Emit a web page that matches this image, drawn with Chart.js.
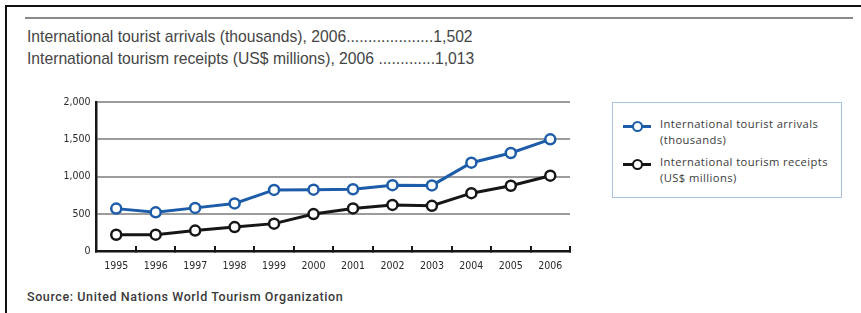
<!DOCTYPE html>
<html>
<head>
<meta charset="utf-8">
<script src="https://cdn.jsdelivr.net/npm/chart.js@4"></script>
<style>
  html, body { margin: 0; padding: 0; background: #fff; }
  body { width: 861px; height: 313px; position: relative; overflow: hidden; font-family: "Liberation Sans", Arial, sans-serif; }
  .frame-top { position: absolute; left: 5px; top: 5px; width: 856px; height: 2px; background: #111; }
  .frame-left { position: absolute; left: 5px; top: 5px; width: 2px; height: 308px; background: #111; }
  .rule { position: absolute; left: 25px; top: 17px; width: 828px; height: 2px; background: #8a8a8a; }
  .head { position: absolute; left: 27px; font-size: 15.7px; color: #454545; white-space: pre; }
  #h1 { top: 28px; }
  #h2 { top: 50px; }
  .source { position: absolute; left: 27px; top: 289px; font-family: Roboto, sans-serif; font-weight: 500; font-size: 12.5px; letter-spacing: 0.6px; color: #3a3a3a; }
  #wrap { position: absolute; left: 40px; top: 90px; width: 540px; height: 190px; }
  #legend { position: absolute; left: 612px; top: 102px; width: 230px; height: 96px; border: 1.5px solid #a9c3df; box-sizing: border-box; }
  .li { position: absolute; left: 10px; display: flex; align-items: flex-start; }
  .sym { position: relative; width: 28px; height: 12px; margin-top: 2px; }
  .sym .ln { position: absolute; left: 0; top: 4.5px; width: 28px; height: 3px; }
  .sym .pt { position: absolute; left: 8.5px; top: 0.5px; width: 7px; height: 7px; border-radius: 50%; background: #fff; border-width: 2.2px; border-style: solid; }
  .lt { margin-left: 9px; font-family: "Open Sans", sans-serif; font-size: 11.2px; letter-spacing: 0.42px; line-height: 16px; color: #3a3a3a; margin-top: -2px; }
</style>
</head>
<body>
<div class="frame-top"></div>
<div class="frame-left"></div>
<div class="rule"></div>
<div class="head" id="h1"></div>
<div class="head" id="h2"></div>
<div id="wrap"><canvas id="c"></canvas></div>
<div id="legend"></div>
<div class="source" id="src"></div>
<script>
const years = ['1995','1996','1997','1998','1999','2000','2001','2002','2003','2004','2005','2006'];
const arrivals = [570, 520, 580, 640, 822, 825, 830, 885, 882, 1188, 1318, 1502];
const receipts = [218, 220, 275, 322, 368, 497, 573, 620, 608, 778, 878, 1013];
const seriesLabels = [['International tourist arrivals', '(thousands)'], ['International tourism receipts', '(US$ millions)']];
const seriesColors = ['#1d5ca8', '#161616'];
const yTicks = [0, 500, 1000, 1500, 2000];
const headLines = [
  'International tourist arrivals (thousands), 2006....................1,502',
  'International tourism receipts (US$ millions), 2006 .............1,013'
];
const sourceText = 'Source: United Nations World Tourism Organization';

document.getElementById('h1').textContent = headLines[0];
document.getElementById('h2').textContent = headLines[1];
document.getElementById('src').textContent = sourceText;

const condensed = "'Liberation Sans Narrow', 'DejaVu Sans Condensed', sans-serif";

const datasets = [arrivals, receipts].map((d, i) => ({
  label: seriesLabels[i].join(' '),
  data: d,
  borderColor: seriesColors[i],
  backgroundColor: '#fff',
  borderWidth: 3,
  pointRadius: 5,
  pointHoverRadius: 5,
  pointBorderWidth: 2.5,
  pointBackgroundColor: '#fff',
  pointBorderColor: seriesColors[i],
  tension: 0,
  fill: false
}));

// HTML legend built from the series
const legend = document.getElementById('legend');
seriesLabels.forEach((lab, i) => {
  const li = document.createElement('div');
  li.className = 'li';
  li.style.top = (15 + i * 38) + 'px';
  const sym = document.createElement('div');
  sym.className = 'sym';
  const ln = document.createElement('div'); ln.className = 'ln'; ln.style.background = seriesColors[i];
  const pt = document.createElement('div'); pt.className = 'pt'; pt.style.borderColor = seriesColors[i];
  sym.appendChild(ln); sym.appendChild(pt);
  const t = document.createElement('div');
  t.className = 'lt';
  t.innerHTML = lab.map(s => s.replace(/&/g,'&amp;').replace(/</g,'&lt;')).join('<br>');
  li.appendChild(sym); li.appendChild(t);
  legend.appendChild(li);
});

new Chart(document.getElementById('c'), {
  type: 'line',
  data: { labels: years, datasets },
  options: {
    responsive: true,
    maintainAspectRatio: false,
    animation: false,
    events: [],
    layout: { padding: { top: 11, right: 10, left: 0, bottom: 0 } },
    plugins: { legend: { display: false }, tooltip: { enabled: false } },
    scales: {
      x: {
        type: 'category',
        offset: true,
        grid: { offset: true, drawOnChartArea: false, drawTicks: true, tickLength: -5, color: '#161616', lineWidth: 2 },
        border: { display: true, color: '#161616', width: 2.5 },
        ticks: { padding: 14, color: '#2a2a2a', font: { family: condensed, size: 10.5 }, maxRotation: 0, autoSkip: false },
        afterFit: s => { s.height = 29; }
      },
      y: {
        min: 0, max: 2000,
        afterBuildTicks: s => { s.ticks = yTicks.map(v => ({ value: v })); },
        grid: { color: '#9c9c9c', lineWidth: 2, drawTicks: false },
        border: { display: true, color: '#161616', width: 2.5 },
        ticks: { padding: 6, color: '#2a2a2a', font: { family: condensed, size: 10.5 }, callback: v => v.toLocaleString('en-US') },
        afterFit: s => { s.width = 56.5; }
      }
    }
  }
});
</script>
</body>
</html>
